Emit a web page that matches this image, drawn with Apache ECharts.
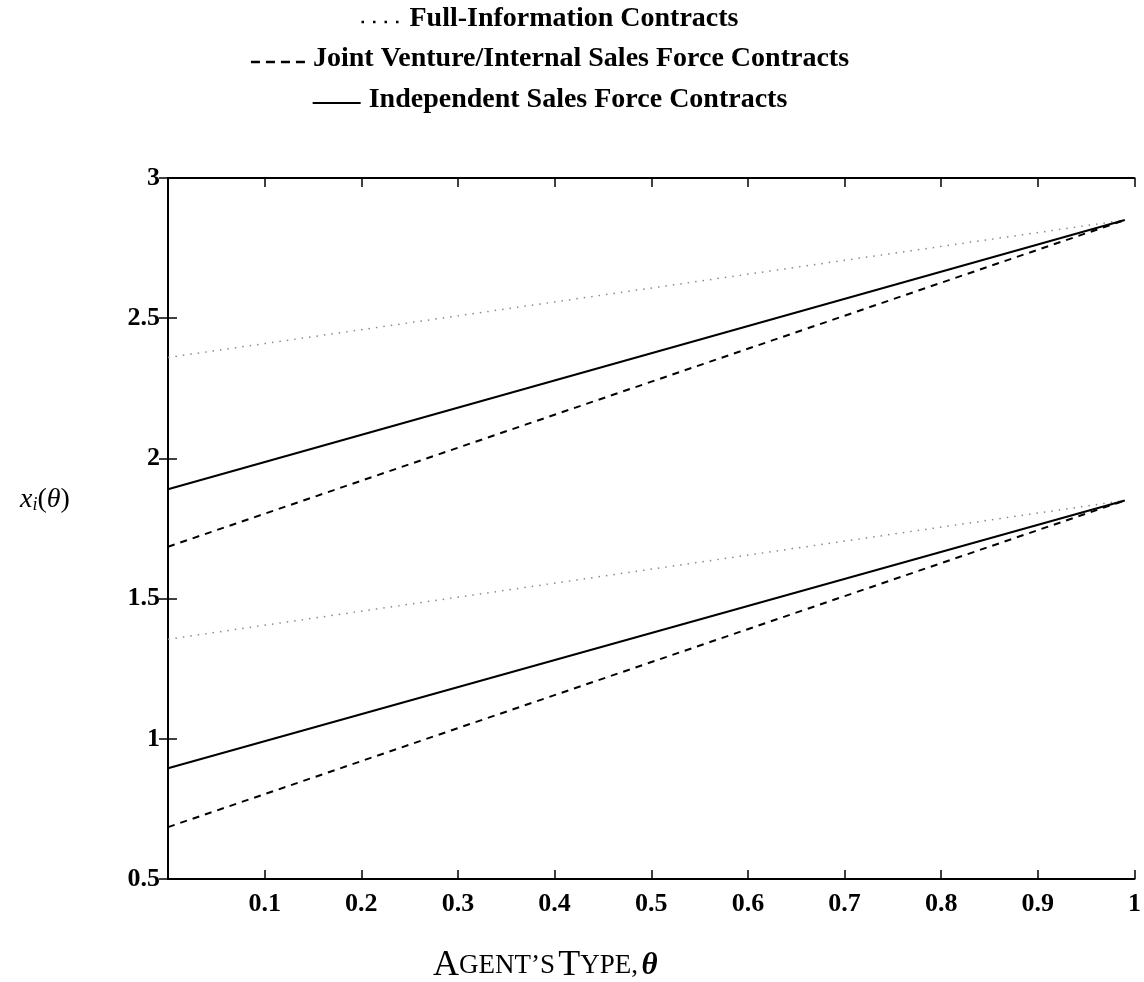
<!DOCTYPE html>
<html>
<head>
<meta charset="utf-8">
<script src="https://cdn.jsdelivr.net/npm/echarts@6/dist/echarts.min.js"></script>
<style>
  html, body { margin: 0; padding: 0; background: #fff; }
  #chart { width: 1144px; height: 982px; }
</style>
</head>
<body>
<div id="chart"></div>
<script>
// agent's type theta (x values at the two ends of each line)
var theta = [0, 0.99];

// upper group
var fullHigh = [2.36, 2.85];
var jointHigh = [1.685, 2.85];
var indepHigh = [1.89, 2.85];
// lower group
var fullLow = [1.355, 1.85];
var jointLow = [0.685, 1.85];
var indepLow = [0.895, 1.85];

var names = ['Full-Information Contracts', 'Joint Venture/Internal Sales Force Contracts', 'Independent Sales Force Contracts'];
var xTicks = [0.1, 0.2, 0.3, 0.4, 0.5, 0.6, 0.7, 0.8, 0.9, 1];

function pairs(ys) {
    return theta.map(function (t, i) { return [t, ys[i]]; });
}

var serif = 'Liberation Serif';
var styles = {
    full: { color: '#8a8a8a', width: 1.5, type: [1.5, 6] },
    joint: { color: '#000', width: 2, type: [7, 6] },
    indep: { color: '#000', width: 2, type: 'solid' }
};

function mk(name, ys, st) {
    return {
        name: name,
        type: 'line',
        data: pairs(ys),
        showSymbol: false,
        symbol: 'none',
        silent: true,
        lineStyle: st,
        itemStyle: { color: st.color }
    };
}

// legend rows drawn by hand, each row centred on the same x
var legendFont = 'bold 28px "Liberation Serif"';
var measure = document.createElement('canvas').getContext('2d');
measure.font = legendFont;

function legendRow(label, cy, lineLen, lineStyle) {
    var gap = 8;
    var tw = measure.measureText(label).width;
    var x0 = 550 - (lineLen + gap + tw) / 2;
    return {
        type: 'group',
        silent: true,
        children: [{
            type: 'line',
            shape: { x1: x0, y1: cy + 3, x2: x0 + lineLen, y2: cy + 3 },
            style: lineStyle
        }, {
            type: 'text',
            x: x0 + lineLen + gap,
            y: cy,
            style: {
                text: label,
                font: legendFont,
                fill: '#000',
                verticalAlign: 'middle'
            }
        }]
    };
}

var myChart = echarts.init(document.getElementById('chart'));

var axisLine = { show: true, lineStyle: { color: '#000', width: 2 } };
var axisTick = { show: true, inside: true, length: 9, lineStyle: { color: '#000', width: 1.5 } };

var option = {
    animation: false,
    backgroundColor: '#fff',
    grid: { left: 168, right: 6, top: 178, bottom: 103 },
    xAxis: [{
        type: 'value',
        min: 0,
        max: 1,
        interval: 0.1,
        axisLine: axisLine,
        axisTick: axisTick,
        splitLine: { show: false },
        axisLabel: {
            color: '#000',
            fontFamily: serif,
            fontSize: 26,
            fontWeight: 'bold',
            margin: 12,
            formatter: function (v) {
                var r = Math.round(v * 10) / 10;
                return xTicks.indexOf(r) >= 0 ? String(r) : '';
            }
        }
    }, {
        type: 'value',
        position: 'top',
        min: 0,
        max: 1,
        interval: 0.1,
        axisLine: axisLine,
        axisTick: axisTick,
        axisLabel: { show: false },
        splitLine: { show: false }
    }],
    yAxis: [{
        type: 'value',
        min: 0.5,
        max: 3,
        interval: 0.5,
        axisLine: axisLine,
        axisTick: axisTick,
        splitLine: { show: false },
        axisLabel: {
            color: '#000',
            fontFamily: serif,
            fontSize: 26,
            fontWeight: 'bold',
            margin: 8
        }
    }, {
        type: 'value',
        position: 'right',
        min: 0.5,
        max: 3,
        interval: 0.5,
        axisLine: axisLine,
        axisTick: axisTick,
        axisLabel: { show: false },
        splitLine: { show: false }
    }],
    graphic: [
        legendRow(names[0], 19, 40, { stroke: '#000', lineWidth: 2.5, lineDash: [2.5, 9] }),
        legendRow(names[1], 59, 54, { stroke: '#000', lineWidth: 2.5, lineDash: [9, 6] }),
        legendRow(names[2], 100, 48, { stroke: '#000', lineWidth: 2 }),
        {
            type: 'text',
            left: 20,
            top: 486,
            style: {
                text: '{x|x}{i|i}{p|(}{t|θ}{p|)}',
                rich: {
                    x: { fontFamily: serif, fontStyle: 'italic', fontSize: 28, fill: '#000' },
                    i: { fontFamily: serif, fontStyle: 'italic', fontSize: 18, fill: '#000', padding: [10, 0, 0, 0] },
                    p: { fontFamily: serif, fontSize: 28, fill: '#000' },
                    t: { fontFamily: serif, fontStyle: 'italic', fontSize: 28, fill: '#000' }
                }
            }
        }, {
            type: 'text',
            left: 433,
            top: 948,
            style: {
                text: '{b|A}{s|GENT\u2019S} {b|T}{s|YPE,} {t|θ}',
                rich: {
                    b: { fontFamily: serif, fontSize: 36, fill: '#000' },
                    s: { fontFamily: serif, fontSize: 27, fill: '#000' },
                    t: { fontFamily: serif, fontStyle: 'italic', fontWeight: 'bold', fontSize: 31, fill: '#000' }
                }
            }
        }
    ],
    series: [
        mk(names[0], fullHigh, styles.full),
        mk(names[0], fullLow, styles.full),
        mk(names[1], jointHigh, styles.joint),
        mk(names[1], jointLow, styles.joint),
        mk(names[2], indepHigh, styles.indep),
        mk(names[2], indepLow, styles.indep)
    ]
};

myChart.setOption(option);
window.addEventListener('resize', function () {
    myChart.resize();
});
</script>
</body>
</html>
